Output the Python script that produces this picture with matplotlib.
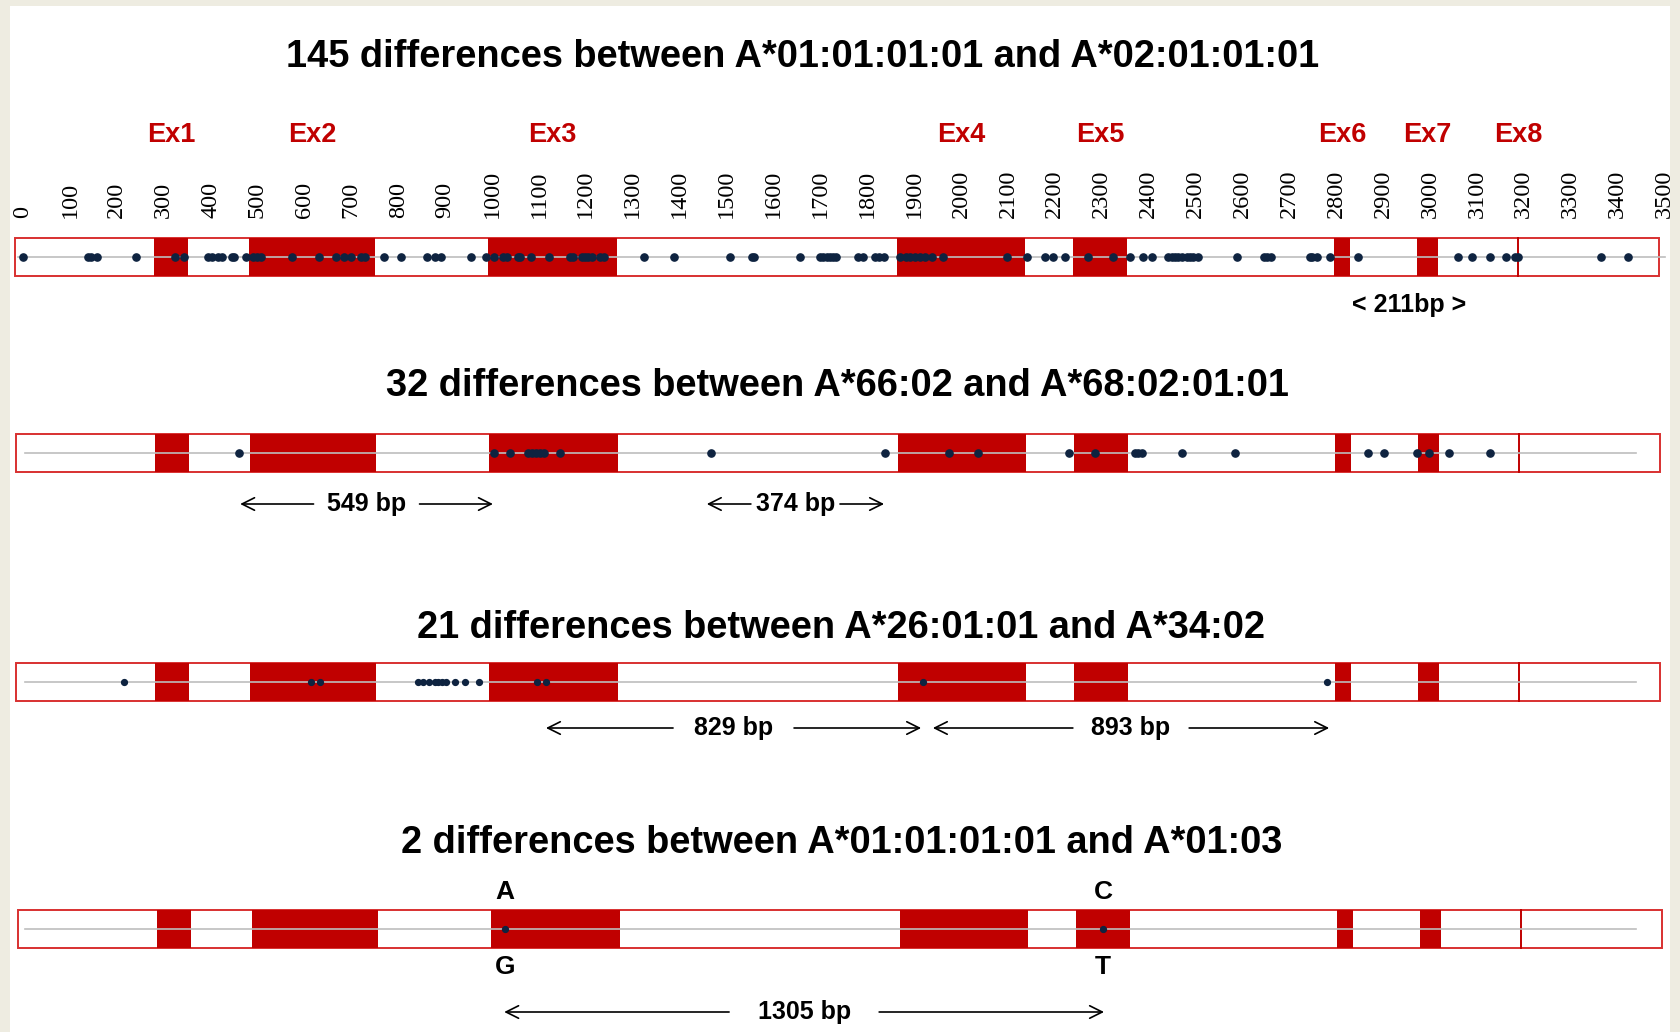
import matplotlib
matplotlib.use("Agg")
import matplotlib.pyplot as plt
from matplotlib.patches import Rectangle

# exon boundaries in bp (start, end); Ex8 is drawn as a single line
exon_names = ["Ex1", "Ex2", "Ex3", "Ex4", "Ex5", "Ex6", "Ex7", "Ex8"]
exon_start = [279, 482, 991, 1864, 2239, 2795, 2972, 3188]
exon_end = [352, 751, 1267, 2136, 2354, 2829, 3017, 3188]
gene_start, gene_end = -17, 3488

ticks = list(range(0, 3501, 100))

titles = [
    "145 differences between A*01:01:01:01 and A*02:01:01:01",
    "32 differences between A*66:02 and A*68:02:01:01",
    "21 differences between A*26:01:01 and A*34:02",
    "2 differences between A*01:01:01:01 and A*01:03",
]

# positions (bp) of the differences
diffs_1 = [1, 139, 146, 157, 242, 324, 344, 395, 402, 416, 424, 445, 450, 475,
           490, 498, 507, 573, 631, 667, 684, 699, 720, 729, 770, 805, 861, 878,
           891, 955, 987, 1005, 1024, 1031, 1056, 1060, 1083, 1122, 1166, 1173,
           1191, 1198, 1205, 1214, 1230, 1239, 1324, 1387, 1507, 1554, 1559,
           1657, 1699, 1706, 1714, 1721, 1728, 1733, 1781, 1792, 1817, 1826,
           1836, 1871, 1883, 1891, 1902, 1913, 1923, 1938, 1962, 2099, 2140,
           2179, 2197, 2222, 2271, 2325, 2360, 2389, 2407, 2442, 2449, 2456,
           2463, 2471, 2481, 2488, 2495, 2506, 2588, 2645, 2652, 2662, 2744,
           2749, 2760, 2787, 2846, 3060, 3090, 3128, 3163, 3181, 3188, 3365,
           3422]
diffs_2 = [461, 1004, 1038, 1077, 1085, 1094, 1102, 1111, 1145, 1467, 1839,
           1974, 2036, 2230, 2286, 2370, 2377, 2385, 2471, 2584, 2867, 2902,
           2972, 2997, 3040, 3127]
diffs_3 = [215, 614, 633, 842, 853, 865, 878, 885, 893, 901, 921, 942, 972,
           1096, 1115, 1919, 2780]
diffs_4 = [1028, 2303]
diffs = [diffs_1, diffs_2, diffs_3, diffs_4]

# distance arrows: (row, start bp, end bp, label)
spans = [
    (1, 463, 1002, "549 bp"),
    (1, 1458, 1836, "374 bp"),
    (2, 1115, 1915, "829 bp"),
    (2, 1940, 2785, "893 bp"),
    (3, 1026, 2305, "1305 bp"),
]
span_gap = [113, 95, 129, 124, 160]

# row 4 base changes
bases_top = ["A", "C"]
bases_bottom = ["G", "T"]

RED = "#C00000"
NAVY = "#0E2340"

fig = plt.figure(figsize=(16.8, 10.32), dpi=100, facecolor="#EEECE1")
ax = fig.add_axes([0, 0, 1, 1])
ax.set_xlim(-23 / 0.469, (1680 - 23) / 0.469)
ax.set_ylim(1032, 0)
ax.axis("off")
ax.add_patch(Rectangle((10 / 1680, 0), 1660 / 1680, 1026 / 1032,
                       transform=fig.transFigure, facecolor="white",
                       edgecolor="none", zorder=0))

row_y = [257, 453, 682, 929]
row_shift = [0, 2, 2, 6]   # later tracks sit a little further right
title_y = [57, 386, 628, 843]
title_x = [1662, 1737, 1744, 1745]
box_h = 38

for i, y in enumerate(row_y):
    dx = row_shift[i]
    ax.text(title_x[i], title_y[i], titles[i], ha="center", va="center",
            fontsize=27.4, fontweight="bold", family="Liberation Sans")
    ax.add_patch(Rectangle((gene_start + dx, y - box_h / 2), gene_end - gene_start,
                           box_h, facecolor="white", edgecolor="#D83030",
                           lw=1.4, zorder=1))
    for s, e in zip(exon_start, exon_end):
        if e > s:
            ax.add_patch(Rectangle((s + dx, y - box_h / 2), e - s, box_h,
                                   facecolor=RED, edgecolor="none", zorder=2))
        else:
            ax.plot([s + dx, s + dx], [y - box_h / 2, y + box_h / 2], color=RED,
                    lw=1.4, zorder=2)
    ax.plot([-10 if i == 0 else 5, 3500 if i == 0 else 3440], [y, y],
            color="#BDBDBD", lw=1.2, zorder=3)
    ax.plot(diffs[i], [y] * len(diffs[i]), "o", color=NAVY,
            ms=5.2 if i < 2 else 4.2, zorder=4)

# exon names above the first track
for name, s, e in zip(exon_names, exon_start, exon_end):
    ax.text((s + e) / 2, 135, name, ha="center", va="center", color=RED,
            fontsize=19.5, fontweight="bold", family="Liberation Sans")

# coordinate ruler
for t in ticks:
    ax.text(t, 218, str(t), rotation=90, ha="center", va="bottom",
            fontsize=17.5, family="Liberation Serif")

ax.text(2955, 305, "< 211bp >", ha="center", va="center", fontsize=18,
        fontweight="bold", family="Liberation Sans")

arrow_y = [0, 504, 728, 1012]
for (row, s, e, label), gap in zip(spans, span_gap):
    mid = (s + e) / 2
    y = arrow_y[row]
    ax.text(mid, y, label, ha="center", va="center", fontsize=18,
            fontweight="bold", family=["Liberation Sans Narrow", "Liberation Sans"])
    for tip in (s, e):
        tail = mid - gap if tip < mid else mid + gap
        ax.annotate("", xy=(tip, y), xytext=(tail, y),
                    arrowprops=dict(arrowstyle="->,head_length=0.9,head_width=0.45",
                                    lw=1.2, color="black", shrinkA=0, shrinkB=0))

for x, top, bottom in zip(diffs_4, bases_top, bases_bottom):
    ax.text(x, 892, top, ha="center", va="center", fontsize=19,
            fontweight="bold", family=["Liberation Sans Narrow", "Liberation Sans"])
    ax.text(x, 967, bottom, ha="center", va="center", fontsize=19,
            fontweight="bold", family=["Liberation Sans Narrow", "Liberation Sans"])

fig.savefig("out.png", dpi=100, facecolor=fig.get_facecolor())
